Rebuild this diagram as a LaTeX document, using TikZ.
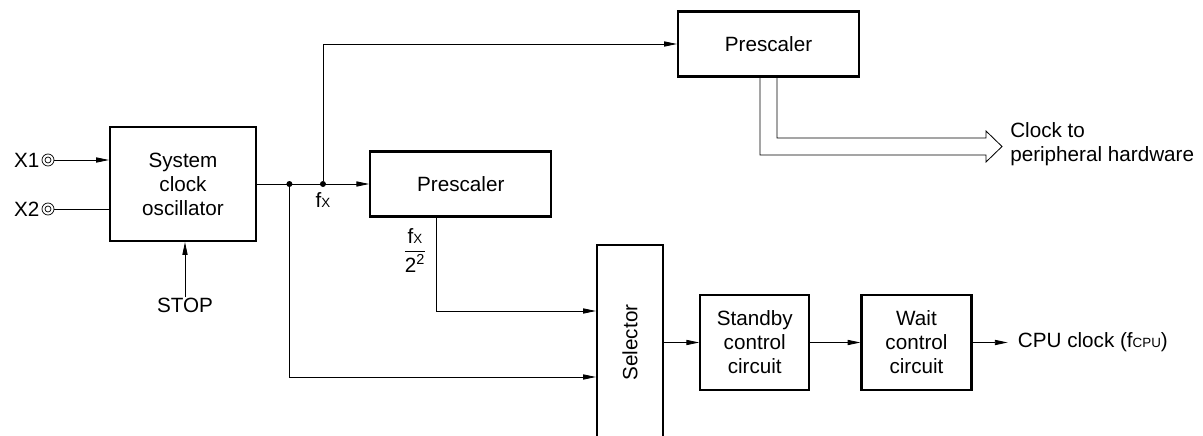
\documentclass[tikz,border=0pt]{standalone}
\usepackage{amsmath}
\usepackage{fontspec}
\setmainfont{Liberation Sans}
\usetikzlibrary{arrows.meta,calc,positioning}
\newcommand{\smallsub}[1]{{\fontsize{9.5pt}{10pt}\selectfont #1}}
\tikzset{
  blok/.style={
    draw,
    line width=1.6pt,
    align=center,
    inner sep=0pt,
    font=\fontsize{14.7pt}{17pt}\selectfont
  },
  txt/.style={
    align=left,
    inner sep=0pt,
    font=\fontsize{14.7pt}{17pt}\selectfont
  },
  dot/.style={
    circle,
    fill,
    inner sep=0pt,
    minimum size=.15cm
  },
  pin/.style={
    circle,
    draw,
    line width=.5pt,
    inner sep=0pt,
    minimum size=.3cm
  },
  arrow/.style={
    -{Triangle[length=3.2mm,width=1.3mm]},
    line width=.6pt
  },
  wire/.style={
    line width=.6pt
  }
}

\begin{document}
\begin{tikzpicture}
\useasboundingbox (0,0) rectangle (30.075,10.875);
% oscillator and its inputs
\node[blok,minimum width=3.65cm,minimum height=2.85cm] (osc) at (4.575,6.275) {System\\clock\\oscillator};
\node[pin] (x1pin) at (1.2,6.875) {};
\node[pin] (x2pin) at (1.2,5.65) {};
\draw[line width=.5pt] (x1pin) circle (.075);
\draw[line width=.5pt] (x2pin) circle (.075);
\node[txt,left=.05cm of x1pin] (x1) {X1};
\node[txt,left=.05cm of x2pin] (x2) {X2};
\node[txt] (stop) at (4.625,3.25) {STOP};
\draw[arrow] (x1pin) -- (osc.west |- x1pin);
\draw[wire] (x2pin) -- (osc.west |- x2pin);
\draw[arrow] (stop) -- (stop |- osc.south);
% prescalers
\node[dot,right=.725cm of osc] (j1) {};
\node[dot,right=.675cm of j1] (j2) {};
\node[txt,below=.12cm of j2] (fx) {f\smallsub{X}};
\node[blok,right=2.8cm of osc,minimum width=4.525cm,minimum height=1.625cm] (pre2) {Prescaler};
\node[blok,minimum width=4.525cm,minimum height=1.625cm] (pre1) at (19.2125,9.775) {Prescaler};
\draw[arrow] (osc) -- (pre2);
\draw[arrow] (j2) |- (pre1);
\node[txt] (div) at (10.375,4.62) {$\dfrac{\text{f\smallsub{X}}}{\text{2\textsuperscript{2}}}$};
% clock to peripheral hardware
\coordinate (clktip) at (25.05,7.2125);
\draw[wire] ($(pre1.south)+(-.2125,0)$) |- (24.65,7.0) -- (24.65,6.825) -- (clktip)
  -- (24.65,7.6) -- (24.65,7.425) -| ($(pre1.south)+(.2125,0)$);
\node[txt,anchor=west] (clk) at (25.25,7.28) {Clock to\\peripheral hardware};
% selector and control chain
\node[blok,minimum width=1.65cm,minimum height=4.875cm] (sel) at (15.75,2.3125) {};
\node[txt,rotate=90] (seltxt) at (sel) {Selector};
\coordinate (selA) at ($(sel.west)+(0,.7875)$);
\coordinate (selB) at ($(sel.west)+(0,-.8625)$);
\draw[arrow] ($(pre2.south)+(-.6125,0)$) |- (selA);
\draw[arrow] (j1) |- (selB);
\node[blok,right=.875cm of sel,minimum width=2.725cm,minimum height=2.375cm] (stby) {Standby\\control\\circuit};
\node[blok,right=1.25cm of stby,minimum width=2.75cm,minimum height=2.375cm] (wait) {Wait\\control\\circuit};
\node[txt,right=.875cm of wait,inner xsep=.25cm] (cpu) {CPU clock (f\smallsub{CPU})};
\draw[arrow] (sel.east |- stby) -- (stby);
\draw[arrow] (stby) -- (wait);
\draw[arrow] (wait) -- (cpu);
\end{tikzpicture}
\end{document}
